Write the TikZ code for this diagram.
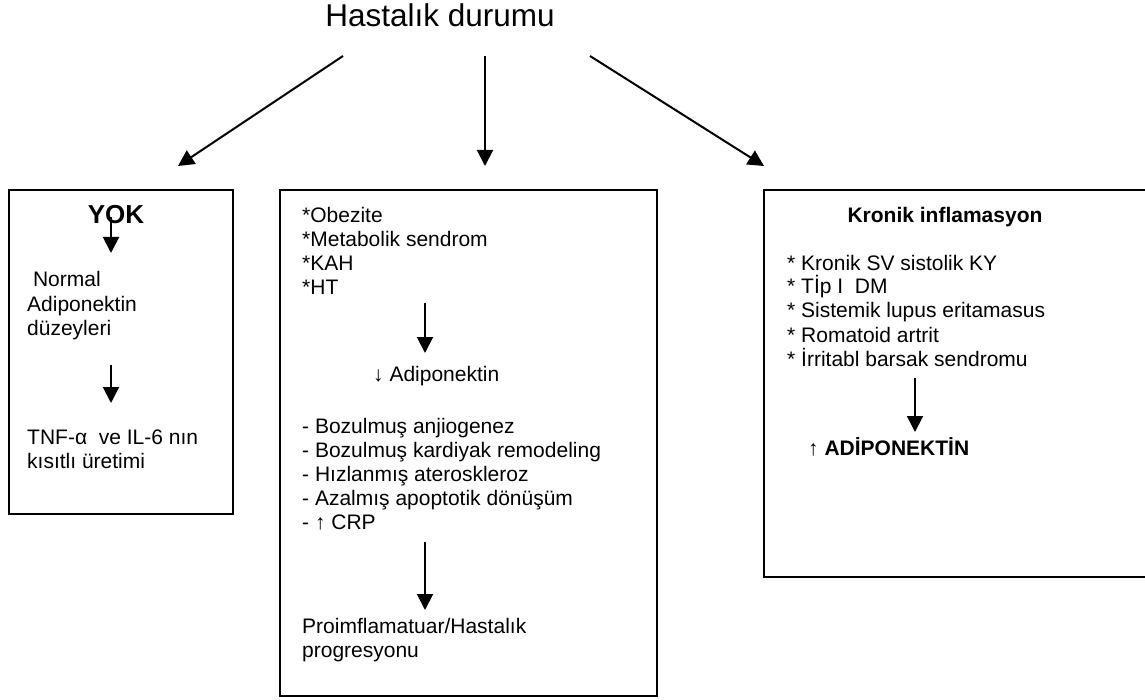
\documentclass[tikz,border=0pt]{standalone}
\usepackage{fontspec}
\setmainfont{Liberation Sans}
\usetikzlibrary{arrows.meta}
\tikzset{
  arr/.style={line width=2pt,-{Triangle[length=16pt,width=16pt]}},
  box/.style={line width=1.8pt},
  txt/.style={anchor=base west,inner sep=0pt,align=left,font=\fontsize{21}{24}\selectfont},
  boldtxt/.style={txt,font=\fontsize{21}{24}\selectfont\bfseries},
}
\begin{document}
\begin{tikzpicture}[x=1pt,y=-1pt]
\clip (0,0) rectangle (1145,700);
\fill[white] (0,0) rectangle (1145,700);
% Drawing title and boxes
\node[anchor=base,inner sep=0pt,font=\fontsize{31.5}{36}\selectfont] (title) at (440,27) {Hastalık durumu};
\draw[box] (9,190) rectangle (233,514);
\draw[box] (280,190) rectangle (657,696);
\draw[box] (1160,190) -- (764,190) -- (764,577) -- (1160,577);
% Left box: YOK (multi-line nodes sit on the baseline of their last line)
\node[anchor=base,inner sep=0pt,font=\fontsize{26}{28}\selectfont\bfseries] (yok) at (116,224) {YOK};
\node[txt] (normal) at (27,335) {\ Normal\\Adiponektin\\düzeyleri};
\node[txt] (tnf) at (27,468) {TNF-α\ \ ve IL-6 nın\\kısıtlı üretimi};
% Middle box
\node[txt] (causes) at (302,295) {*Obezite\\*Metabolik sendrom\\*KAH\\*HT};
\node[txt] (adipo) at (373,381) {↓ Adiponektin};
\node[txt] (effects) at (302,529) {- Bozulmuş anjiogenez\\- Bozulmuş kardiyak remodeling\\- Hızlanmış ateroskleroz\\- Azalmış apoptotik dönüşüm\\- ↑ CRP};
\node[txt] (prog) at (302,657) {Proimflamatuar/Hastalık\\progresyonu};
% Right box: Kronik inflamasyon
\node[boldtxt,anchor=base] (kronik) at (945,223) {Kronik inflamasyon};
\node[txt] (diseases) at (787,366) {* Kronik SV sistolik KY\\* Tİp I\ \ DM\\* Sistemik lupus eritamasus\\* Romatoid artrit\\* İrritabl barsak sendromu};
\node[boldtxt] (adipoup) at (808,455) {{\mdseries↑} ADİPONEKTİN};
% Done with text; drawing arrows
\coordinate (t1) at (343,56); \coordinate (b1) at (178,166);
\coordinate (t2) at (485,56); \coordinate (b2) at (485,166);
\coordinate (t3) at (590,56); \coordinate (b3) at (764,166);
\draw[arr] (t1) -- (b1);
\draw[arr] (t2) -- (b2);
\draw[arr] (t3) -- (b3);
\coordinate (y1) at (111,217); \coordinate (y2) at (111,253);
\coordinate (n1) at (111,365); \coordinate (n2) at (111,403);
\draw[arr] (y1) -- (y2);
\draw[arr] (n1) -- (n2);
\coordinate (m1) at (425,303); \coordinate (m2) at (425,353);
\coordinate (m3) at (425,542); \coordinate (m4) at (425,610);
\draw[arr] (m1) -- (m2);
\draw[arr] (m3) -- (m4);
\coordinate (k1) at (915,378); \coordinate (k2) at (915,432);
\draw[arr] (k1) -- (k2);
% Done with arrows
\end{tikzpicture}
\end{document}
